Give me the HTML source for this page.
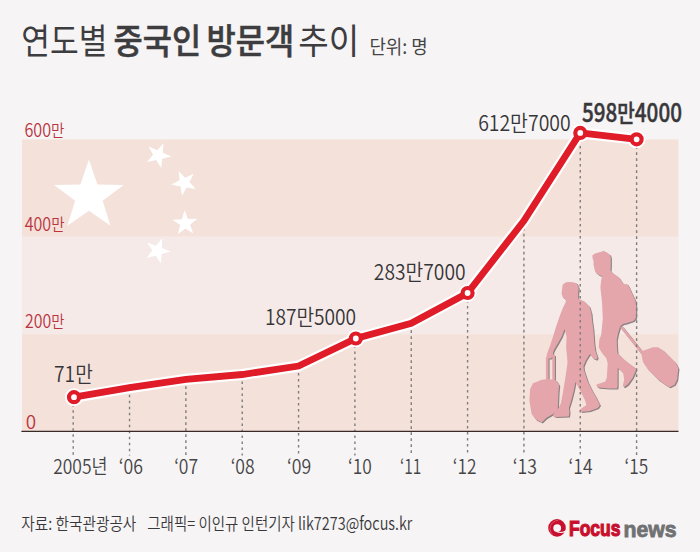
<!DOCTYPE html>
<html><head><meta charset="utf-8"><title>연도별 중국인 방문객 추이</title>
<style>html,body{margin:0;padding:0;background:#f7f4f5;}body{width:700px;height:552px;overflow:hidden;}svg{display:block;}</style>
</head><body>
<svg width="700" height="552" viewBox="0 0 700 552">
<rect width="700" height="552" fill="#f7f4f5"/>
<rect x="22" y="139.4" width="656.5" height="97.4" fill="#f4e1da"/>
<rect x="22" y="236.8" width="656.5" height="97.4" fill="#f5eae8"/>
<rect x="22" y="334.2" width="656.5" height="97.4" fill="#f4e1da"/>
<g fill="#ffffff"><polygon points="88.90,159.60 97.40,184.50 123.71,184.89 102.65,200.67 110.41,225.81 88.90,210.66 67.39,225.81 75.15,200.67 54.09,184.89 80.40,184.50"/><polygon points="147.01,161.95 153.08,154.80 148.49,146.62 157.16,150.18 163.52,143.29 162.81,152.64 171.34,156.55 162.23,158.77 161.14,168.09 156.21,160.11"/><polygon points="171.33,184.62 179.67,180.34 178.56,171.03 185.21,177.64 193.72,173.70 189.49,182.07 195.87,188.95 186.60,187.51 182.02,195.70 180.53,186.44"/><polygon points="172.49,219.75 181.85,219.19 184.58,210.21 188.01,218.94 197.39,218.76 190.14,224.72 193.21,233.59 185.31,228.54 177.83,234.19 180.18,225.12"/><polygon points="147.25,242.64 156.10,245.75 162.09,238.53 161.87,247.91 170.59,251.38 161.60,254.06 161.00,263.42 155.66,255.71 146.57,258.03 152.27,250.57"/></g>
<g transform="translate(1.1,1.1)" fill="#8d8284"><polygon points="562.8,284.5 566.0,282.3 569.2,282.0 573.0,282.3 576.8,283.2 578.7,287.7 578.1,294.0 578.1,298.5 584.4,301.6 589.5,306.7 591.4,313.1 592.0,320.0 593.3,329.1 594.3,343.3 595.4,350.9 597.6,357.4 596.5,359.6 593.3,358.5 590.0,354.1 588.5,356.0 585.7,360.7 583.5,366.1 583.9,370.0 587.9,381.9 591.9,389.9 595.9,396.9 599.9,404.9 597.9,407.9 589.9,410.9 580.9,411.9 580.0,409.5 586.4,404.9 584.9,399.9 579.9,389.9 575.4,382.0 573.9,389.9 571.4,399.9 568.9,407.9 569.4,411.9 568.9,416.4 556.0,416.9 553.0,415.9 553.5,413.9 557.5,409.9 561.0,402.9 563.0,391.9 565.0,380.0 566.5,370.0 567.5,362.7 567.2,358.5 566.1,347.6 566.6,336.7 564.5,329.1 561.7,336.7 557.9,343.3 554.1,349.8 553.0,352.5 553.5,356.0 551.0,358.5 547.6,358.5 546.5,356.3 547.6,352.0 549.8,346.5 553.0,336.7 556.3,325.9 560.1,315.0 560.9,313.1 562.8,308.0 565.4,302.9 566.0,299.7 562.8,297.2 561.6,294.0 562.2,287.7"/><polygon points="533.0,383.3 541.7,379.7 549.0,379.0 556.2,380.4 559.1,384.8 558.4,393.5 557.7,410.9 553.3,413.8 546.1,418.1 541.7,422.5 535.9,419.6 531.6,413.8 529.4,400.7 530.1,389.1"/><polygon points="592.3,255.6 595.0,253.6 598.5,252.6 602.2,251.6 604.0,250.6 605.3,252.4 606.8,252.2 608.5,254.1 610.0,254.4 610.8,257.7 610.8,264.5 610.5,270.6 612.4,272.8 619.1,277.6 623.0,283.6 625.3,284.3 627.2,284.0 628.9,286.6 631.7,292.8 635.5,300.4 636.3,307.0 636.1,313.5 636.0,317.8 633.4,321.0 626.3,323.3 623.6,323.8 621.0,325.5 619.8,327.6 617.9,334.0 616.7,340.0 617.1,349.4 617.6,353.2 623.2,358.8 628.9,363.5 634.5,367.3 636.4,369.2 632.7,377.7 628.0,384.3 624.2,387.1 622.8,386.1 624.2,379.5 623.2,373.0 619.5,369.2 617.6,368.2 617.6,386.1 617.1,388.5 609.1,388.5 598.8,387.6 596.4,386.1 596.9,384.3 600.6,383.3 605.4,381.4 606.8,377.7 607.2,371.1 607.7,363.5 606.3,357.9 601.6,352.2 598.8,347.5 599.2,340.0 601.2,335.0 602.8,318.4 602.0,302.0 600.4,287.4 601.2,280.1 602.3,276.2 600.3,275.6 597.9,274.3 595.6,272.4 594.8,270.6 594.2,267.8 593.5,264.5 593.6,261.3 592.6,258.3"/><polygon points="642.3,351.1 653.0,347.3 658.1,347.3 663.2,350.4 675.9,363.1 678.4,368.2 677.8,373.3 677.1,379.6 674.6,384.7 669.5,387.2 667.0,385.9 658.1,379.6 648.0,369.5 642.9,361.8 641.6,355.5"/></g>
<g transform="translate(1.1,1.1)" stroke="#8d8284" stroke-width="2.6"><line x1="547.2" y1="357" x2="547.2" y2="381"/><line x1="553.6" y1="355" x2="553.6" y2="381"/><line x1="621.5" y1="327" x2="643" y2="354"/></g>
<g fill="#e4a5ab"><polygon points="562.8,284.5 566.0,282.3 569.2,282.0 573.0,282.3 576.8,283.2 578.7,287.7 578.1,294.0 578.1,298.5 584.4,301.6 589.5,306.7 591.4,313.1 592.0,320.0 593.3,329.1 594.3,343.3 595.4,350.9 597.6,357.4 596.5,359.6 593.3,358.5 590.0,354.1 588.5,356.0 585.7,360.7 583.5,366.1 583.9,370.0 587.9,381.9 591.9,389.9 595.9,396.9 599.9,404.9 597.9,407.9 589.9,410.9 580.9,411.9 580.0,409.5 586.4,404.9 584.9,399.9 579.9,389.9 575.4,382.0 573.9,389.9 571.4,399.9 568.9,407.9 569.4,411.9 568.9,416.4 556.0,416.9 553.0,415.9 553.5,413.9 557.5,409.9 561.0,402.9 563.0,391.9 565.0,380.0 566.5,370.0 567.5,362.7 567.2,358.5 566.1,347.6 566.6,336.7 564.5,329.1 561.7,336.7 557.9,343.3 554.1,349.8 553.0,352.5 553.5,356.0 551.0,358.5 547.6,358.5 546.5,356.3 547.6,352.0 549.8,346.5 553.0,336.7 556.3,325.9 560.1,315.0 560.9,313.1 562.8,308.0 565.4,302.9 566.0,299.7 562.8,297.2 561.6,294.0 562.2,287.7"/><polygon points="533.0,383.3 541.7,379.7 549.0,379.0 556.2,380.4 559.1,384.8 558.4,393.5 557.7,410.9 553.3,413.8 546.1,418.1 541.7,422.5 535.9,419.6 531.6,413.8 529.4,400.7 530.1,389.1"/><polygon points="592.3,255.6 595.0,253.6 598.5,252.6 602.2,251.6 604.0,250.6 605.3,252.4 606.8,252.2 608.5,254.1 610.0,254.4 610.8,257.7 610.8,264.5 610.5,270.6 612.4,272.8 619.1,277.6 623.0,283.6 625.3,284.3 627.2,284.0 628.9,286.6 631.7,292.8 635.5,300.4 636.3,307.0 636.1,313.5 636.0,317.8 633.4,321.0 626.3,323.3 623.6,323.8 621.0,325.5 619.8,327.6 617.9,334.0 616.7,340.0 617.1,349.4 617.6,353.2 623.2,358.8 628.9,363.5 634.5,367.3 636.4,369.2 632.7,377.7 628.0,384.3 624.2,387.1 622.8,386.1 624.2,379.5 623.2,373.0 619.5,369.2 617.6,368.2 617.6,386.1 617.1,388.5 609.1,388.5 598.8,387.6 596.4,386.1 596.9,384.3 600.6,383.3 605.4,381.4 606.8,377.7 607.2,371.1 607.7,363.5 606.3,357.9 601.6,352.2 598.8,347.5 599.2,340.0 601.2,335.0 602.8,318.4 602.0,302.0 600.4,287.4 601.2,280.1 602.3,276.2 600.3,275.6 597.9,274.3 595.6,272.4 594.8,270.6 594.2,267.8 593.5,264.5 593.6,261.3 592.6,258.3"/><polygon points="642.3,351.1 653.0,347.3 658.1,347.3 663.2,350.4 675.9,363.1 678.4,368.2 677.8,373.3 677.1,379.6 674.6,384.7 669.5,387.2 667.0,385.9 658.1,379.6 648.0,369.5 642.9,361.8 641.6,355.5"/></g>
<g stroke="#e4a5ab" stroke-width="2.6"><line x1="547.2" y1="357" x2="547.2" y2="381"/><line x1="553.6" y1="355" x2="553.6" y2="381"/><line x1="621.5" y1="327" x2="643" y2="354"/></g>
<g stroke="#7d7d7d" stroke-width="1.4" stroke-dasharray="2.6 3.4"><line x1="73.20" y1="404.2" x2="73.20" y2="455.5"/><line x1="129.54" y1="394.7" x2="129.54" y2="455.5"/><line x1="185.88" y1="386.3" x2="185.88" y2="455.5"/><line x1="242.22" y1="381.5" x2="242.22" y2="455.5"/><line x1="298.56" y1="373.0" x2="298.56" y2="455.5"/><line x1="354.90" y1="345.5" x2="354.90" y2="455.5"/><line x1="411.24" y1="330.3" x2="411.24" y2="455.5"/><line x1="467.58" y1="300.0" x2="467.58" y2="455.5"/><line x1="523.92" y1="227.8" x2="523.92" y2="455.5"/><line x1="580.26" y1="139.9" x2="580.26" y2="455.5"/><line x1="636.60" y1="146.3" x2="636.60" y2="455.5"/></g>
<line x1="21.4" y1="431.3" x2="678.5" y2="431.3" stroke="#3a2a27" stroke-width="1.3"/>
<polyline points="74.00,397.20 129.54,387.70 185.88,379.30 242.22,374.50 298.56,366.00 355.80,338.50 411.24,323.30 467.58,293.00 523.92,220.80 580.26,132.90 636.60,139.30" fill="none" stroke="#ffffff" stroke-width="11.2" stroke-linejoin="miter"/>
<g fill="#ffffff"><circle cx="74.00" cy="397.20" r="9"/><circle cx="355.80" cy="338.50" r="9"/><circle cx="467.58" cy="293.00" r="9"/><circle cx="580.26" cy="132.90" r="9"/><circle cx="636.60" cy="139.30" r="9"/></g>
<polyline points="74.00,397.20 129.54,387.70 185.88,379.30 242.22,374.50 298.56,366.00 355.80,338.50 411.24,323.30 467.58,293.00 523.92,220.80 580.26,132.90 636.60,139.30" fill="none" stroke="#df1c28" stroke-width="6.8" stroke-linejoin="miter"/>
<g fill="#ffffff" stroke="#df1c28" stroke-width="4.2"><circle cx="74.00" cy="397.20" r="5"/><circle cx="355.80" cy="338.50" r="5"/><circle cx="467.58" cy="293.00" r="5"/><circle cx="580.26" cy="132.90" r="5"/><circle cx="636.60" cy="139.30" r="5"/></g>
<text x="21.23" y="54.40" font-family="'Noto Sans CJK KR',sans-serif" font-size="35.4" font-weight="400" fill="#3d3d3f" textLength="86.18" lengthAdjust="spacingAndGlyphs">연도별</text>
<text x="113.61" y="54.40" font-family="'Noto Sans CJK KR',sans-serif" font-size="35.4" font-weight="500" fill="#3d3d3f" textLength="87.56" lengthAdjust="spacingAndGlyphs" stroke="#3d3d3f" stroke-width="0.55">중국인</text>
<text x="206.46" y="54.40" font-family="'Noto Sans CJK KR',sans-serif" font-size="35.4" font-weight="500" fill="#3d3d3f" textLength="87.72" lengthAdjust="spacingAndGlyphs" stroke="#3d3d3f" stroke-width="0.55">방문객</text>
<text x="298.34" y="54.40" font-family="'Noto Sans CJK KR',sans-serif" font-size="35.4" font-weight="400" fill="#3d3d3f" textLength="60.96" lengthAdjust="spacingAndGlyphs">추이</text>
<text x="369.39" y="53.60" font-family="'Noto Sans CJK KR',sans-serif" font-size="19.6" font-weight="400" fill="#444446" textLength="58.29" lengthAdjust="spacingAndGlyphs">단위: 명</text>
<text x="24.43" y="136.80" font-family="'Noto Sans CJK KR',sans-serif" font-size="19.0" font-weight="350" fill="#b9343f" textLength="40.04" lengthAdjust="spacingAndGlyphs">600<tspan font-size="0.9em">만</tspan></text>
<text x="24.68" y="230.70" font-family="'Noto Sans CJK KR',sans-serif" font-size="19.0" font-weight="350" fill="#b9343f" textLength="39.79" lengthAdjust="spacingAndGlyphs">400<tspan font-size="0.9em">만</tspan></text>
<text x="25.06" y="327.90" font-family="'Noto Sans CJK KR',sans-serif" font-size="19.0" font-weight="350" fill="#b9343f" textLength="39.40" lengthAdjust="spacingAndGlyphs">200<tspan font-size="0.9em">만</tspan></text>
<text x="25.66" y="428.80" font-family="'Noto Sans CJK KR',sans-serif" font-size="19.0" font-weight="350" fill="#b9343f" textLength="10.37" lengthAdjust="spacingAndGlyphs">0</text>
<text x="53.20" y="474.00" font-family="'Noto Sans CJK KR',sans-serif" font-size="20.2" font-weight="350" fill="#444446" textLength="54.35" lengthAdjust="spacingAndGlyphs">2005년</text>
<text x="118.84" y="474.00" font-family="'Noto Sans CJK KR',sans-serif" font-size="20.2" font-weight="350" fill="#444446" textLength="24.19" lengthAdjust="spacingAndGlyphs">‘06</text>
<text x="174.15" y="474.00" font-family="'Noto Sans CJK KR',sans-serif" font-size="20.2" font-weight="350" fill="#444446" textLength="23.98" lengthAdjust="spacingAndGlyphs">‘07</text>
<text x="230.64" y="474.00" font-family="'Noto Sans CJK KR',sans-serif" font-size="20.2" font-weight="350" fill="#444446" textLength="24.09" lengthAdjust="spacingAndGlyphs">‘08</text>
<text x="286.94" y="474.00" font-family="'Noto Sans CJK KR',sans-serif" font-size="20.2" font-weight="350" fill="#444446" textLength="24.17" lengthAdjust="spacingAndGlyphs">‘09</text>
<text x="347.96" y="474.00" font-family="'Noto Sans CJK KR',sans-serif" font-size="20.2" font-weight="350" fill="#444446" textLength="23.76" lengthAdjust="spacingAndGlyphs">‘10</text>
<text x="400.07" y="474.00" font-family="'Noto Sans CJK KR',sans-serif" font-size="20.2" font-weight="350" fill="#444446" textLength="21.28" lengthAdjust="spacingAndGlyphs">‘11</text>
<text x="452.86" y="474.00" font-family="'Noto Sans CJK KR',sans-serif" font-size="20.2" font-weight="350" fill="#444446" textLength="23.65" lengthAdjust="spacingAndGlyphs">‘12</text>
<text x="512.84" y="474.00" font-family="'Noto Sans CJK KR',sans-serif" font-size="20.2" font-weight="350" fill="#444446" textLength="24.17" lengthAdjust="spacingAndGlyphs">‘13</text>
<text x="568.55" y="474.00" font-family="'Noto Sans CJK KR',sans-serif" font-size="20.2" font-weight="350" fill="#444446" textLength="24.00" lengthAdjust="spacingAndGlyphs">‘14</text>
<text x="624.56" y="474.00" font-family="'Noto Sans CJK KR',sans-serif" font-size="20.2" font-weight="350" fill="#444446" textLength="23.62" lengthAdjust="spacingAndGlyphs">‘15</text>
<text x="54.04" y="381.80" font-family="'Noto Sans CJK KR',sans-serif" font-size="21.6" font-weight="350" fill="#353537" textLength="38.79" lengthAdjust="spacingAndGlyphs">71만</text>
<text x="264.88" y="324.90" font-family="'Noto Sans CJK KR',sans-serif" font-size="21.8" font-weight="350" fill="#353537" textLength="91.24" lengthAdjust="spacingAndGlyphs">187만5000</text>
<text x="373.83" y="280.40" font-family="'Noto Sans CJK KR',sans-serif" font-size="21.8" font-weight="350" fill="#353537" textLength="91.79" lengthAdjust="spacingAndGlyphs">283만7000</text>
<text x="478.13" y="131.20" font-family="'Noto Sans CJK KR',sans-serif" font-size="21.8" font-weight="350" fill="#353537" textLength="92.50" lengthAdjust="spacingAndGlyphs">612만7000</text>
<text x="581.98" y="121.90" font-family="'Noto Sans CJK KR',sans-serif" font-size="25.6" font-weight="500" fill="#38383a" textLength="99.98" lengthAdjust="spacingAndGlyphs" stroke="#38383a" stroke-width="0.45">598<tspan font-size="0.92em">만</tspan>4000</text>
<text x="21.31" y="529.60" font-family="'Noto Sans CJK KR',sans-serif" font-size="17.2" font-weight="350" fill="#38383a" textLength="115.06" lengthAdjust="spacingAndGlyphs">자료: 한국관광공사</text>
<text x="147.28" y="529.60" font-family="'Noto Sans CJK KR',sans-serif" font-size="17.2" font-weight="350" fill="#38383a" textLength="265.00" lengthAdjust="spacingAndGlyphs">그래픽= 이인규 인턴기자 lik7273@focus.kr</text>
<g>
<circle cx="557" cy="527.9" r="8.8" fill="#c8102e"/>
<circle cx="557.2" cy="528.1" r="3.9" fill="#f7f4f5"/>
<path d="M557.5,532 Q562,532.6 566,530.2 L566,531.6 Q561.5,534.2 556.5,532.3 Z" fill="#f7f4f5"/>
<path d="M558.5,520.2 Q551,521 549.8,528.5 Q550.2,532.5 552.5,534.5" fill="none" stroke="#e8798a" stroke-width="0.7" opacity="0.8"/>
<text x="569.0" y="535.6" font-family="'Liberation Sans',sans-serif" font-weight="700" font-size="22.3" fill="#c8102e" stroke="#c8102e" stroke-width="1.2" textLength="51.5" lengthAdjust="spacingAndGlyphs">Focus</text>
<text x="623.6" y="536.6" font-family="'Liberation Sans',sans-serif" font-weight="700" font-size="21.8" fill="#707173" stroke="#707173" stroke-width="0.8" textLength="53" lengthAdjust="spacingAndGlyphs">news</text>
</g>
</svg>
</body></html>
